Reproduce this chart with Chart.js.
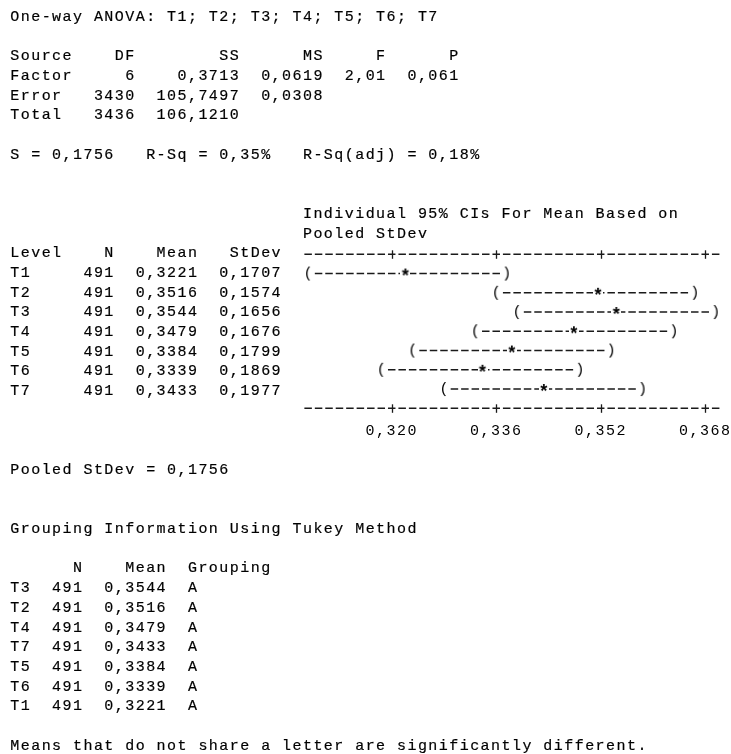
<!DOCTYPE html>
<html>
<head>
<meta charset="utf-8">
<title>One-way ANOVA</title>
<script src="https://cdn.jsdelivr.net/npm/chart.js@4/dist/chart.umd.min.js"></script>
<style>
  html, body { margin: 0; padding: 0; background: #fff; }
  #wrap { position: relative; width: 731px; height: 754px; overflow: hidden; }
  #plot { position: absolute; left: 0; top: 0; }
  #out {
    position: absolute; left: 10.3px; top: 7.8px; margin: 0;
    font: 15px/19.7px "Liberation Mono", monospace;
    letter-spacing: 1.45px; color: #000; white-space: pre;
    -webkit-text-stroke: 0.2px #000;
  }
</style>
</head>
<body>
<div id="wrap">
  <canvas id="plot" width="731" height="754"></canvas>
  <pre id="out"></pre>
</div>
<script>
// ANOVA table
const sources = ['Factor', 'Error', 'Total'];
const dfs = [6, 3430, 3436];
const ss = [0.3713, 105.7497, 106.1210];
const ms = [0.0619, 0.0308];
const fValue = 2.01;
const pValue = 0.061;

// levels
const levels = ['T1', 'T2', 'T3', 'T4', 'T5', 'T6', 'T7'];
const counts = [491, 491, 491, 491, 491, 491, 491];
const means = [0.3221, 0.3516, 0.3544, 0.3479, 0.3384, 0.3339, 0.3433];
const stdevs = [0.1707, 0.1574, 0.1656, 0.1676, 0.1799, 0.1869, 0.1977];
const groups = ['A', 'A', 'A', 'A', 'A', 'A', 'A'];

// 95% CI ends
const ciLower = [0.3072, 0.3360, 0.3392, 0.3328, 0.3232, 0.3184, 0.3280];
const ciUpper = [0.3376, 0.3664, 0.3696, 0.3632, 0.3536, 0.3488, 0.3584];

// axis
const axisTicks = [0.320, 0.336, 0.352, 0.368];
const axisMin = 0.3064;
const axisMax = 0.3704;

const ink = '#000';
const lineInk = '#1a1a1a';
const dash = [7.5, 2.95];
const fmt = (v, d) => v.toFixed(d).replace('.', ',');

// text output
const lines = [];
lines.push('One-way ANOVA: ' + levels.join('; '));
lines.push('');
lines.push('Source' + 'DF'.padStart(6) + 'SS'.padStart(10) + 'MS'.padStart(8) + 'F'.padStart(6) + 'P'.padStart(7));
sources.forEach((s, i) => {
    let row = s.padEnd(6) + String(dfs[i]).padStart(6) + fmt(ss[i], 4).padStart(10);
    if (i < ms.length) row += fmt(ms[i], 4).padStart(8);
    if (i === 0) row += fmt(fValue, 2).padStart(6) + fmt(pValue, 3).padStart(7);
    lines.push(row);
});
lines.push('');
lines.push('S = 0,1756   R-Sq = 0,35%   R-Sq(adj) = 0,18%');
lines.push('', '');
lines.push(' '.repeat(28) + 'Individual 95% CIs For Mean Based on');
lines.push(' '.repeat(28) + 'Pooled StDev');
lines.push('Level' + 'N'.padStart(5) + 'Mean'.padStart(8) + 'StDev'.padStart(8));
levels.forEach((l, i) => {
    lines.push(l.padEnd(5) + String(counts[i]).padStart(5) + fmt(means[i], 4).padStart(8) + fmt(stdevs[i], 4).padStart(8));
});
lines.push('', '', '');
lines.push('Pooled StDev = 0,1756');
lines.push('', '');
lines.push('Grouping Information Using Tukey Method');
lines.push('');
lines.push('N'.padStart(7) + 'Mean'.padStart(8) + '  Grouping');
levels.map((l, i) => i)
    .sort((a, b) => means[b] - means[a])
    .forEach(i => {
        lines.push(levels[i] + String(counts[i]).padStart(5) + fmt(means[i], 4).padStart(8) + '  ' + groups[i]);
    });
lines.push('');
lines.push('Means that do not share a letter are significantly different.');
document.getElementById('out').textContent = lines.join('\n');

// glyphs used as point styles: ( ) *
function glyph(ch, w, h, lift, font) {
    const c = document.createElement('canvas');
    c.width = w;
    c.height = h;
    const g = c.getContext('2d');
    g.fillStyle = '#fff';
    g.fillRect(0, 0, w, h);
    g.font = font;
    g.textAlign = 'center';
    g.textBaseline = 'alphabetic';
    const m = g.measureText(ch);
    const base = h / 2 - lift + (m.actualBoundingBoxAscent - m.actualBoundingBoxDescent) / 2;
    g.fillStyle = ink;
    g.fillText(ch, w / 2, base);
    return c;
}
const openParen = glyph('(', 10, 16, 0, '15px "Liberation Mono"');
const closeParen = glyph(')', 10, 16, 0, '15px "Liberation Mono"');
const star = glyph('*', 10, 16, 1.5, 'bold 18px "Liberation Mono"');

const datasets = [{
    type: 'scatter',
    label: 'Mean',
    data: levels.map((l, i) => ({ x: means[i], y: l })),
    pointStyle: star,
    pointRadius: 4,
    clip: false,
    order: 0
}];
levels.forEach((l, i) => {
    datasets.push({
        type: 'line',
        label: l,
        data: [{ x: ciLower[i], y: l }, { x: ciUpper[i], y: l }],
        borderColor: lineInk,
        borderWidth: 1.5,
        borderDash: dash,
        borderDashOffset: dash[0] / 2,
        pointStyle: [openParen, closeParen],
        pointRadius: 5,
        clip: false,
        order: 1
    });
});

// dashed axis rows with "+" at the ticks, like the text plot
const textAxis = {
    id: 'textAxis',
    beforeDraw(chart) {
        chart.ctx.letterSpacing = '1.45px';
    },
    afterDraw(chart) {
        const { ctx, chartArea, scales } = chart;
        const x = scales.x;
        ctx.save();
        ctx.strokeStyle = lineInk;
        ctx.lineWidth = 1.5;
        [chartArea.top, chartArea.bottom].forEach(y => {
            ctx.setLineDash(dash);
            ctx.lineDashOffset = -(x.getPixelForValue(axisMin + 0.0016) - x.getPixelForValue(axisMin) - dash[0]) / 2;
            ctx.beginPath();
            ctx.moveTo(chartArea.left, y);
            ctx.lineTo(chartArea.right, y);
            ctx.stroke();
            ctx.setLineDash([]);
            x.ticks.forEach(t => {
                const px = Math.round(x.getPixelForValue(t.value)) + 0.5;
                ctx.beginPath();
                ctx.lineWidth = 1.3;
                ctx.moveTo(px, y - 4);
                ctx.lineTo(px, y + 4.5);
                ctx.stroke();
                ctx.lineWidth = 1.5;
            });
        });
        ctx.restore();
    }
};

const noSidePadding = s => { s.paddingLeft = 0; s.paddingRight = 0; };

new Chart(document.getElementById('plot'), {
    data: { datasets: datasets },
    options: {
        responsive: false,
        animation: false,
        devicePixelRatio: 1,
        layout: { padding: { left: 302.9, right: 10.1, top: 254.3, bottom: 305.7 } },
        plugins: { legend: { display: false }, tooltip: { enabled: false } },
        scales: {
            x: {
                type: 'linear',
                position: 'bottom',
                min: axisMin,
                max: axisMax,
                afterBuildTicks: s => { s.ticks = axisTicks.map(v => ({ value: v })); },
                afterFit: s => { s.height = 40; noSidePadding(s); },
                grid: { display: false, drawTicks: false },
                border: { display: false },
                ticks: {
                    color: ink,
                    padding: 14,
                    maxRotation: 0,
                    font: { family: '"Liberation Mono", monospace', size: 15 },
                    callback: v => fmt(v, 3)
                }
            },
            xTop: {
                type: 'linear',
                position: 'top',
                min: axisMin,
                max: axisMax,
                afterFit: s => { s.height = 0; noSidePadding(s); },
                grid: { display: false, drawTicks: false },
                border: { display: false },
                ticks: { display: false }
            },
            y: {
                type: 'category',
                labels: [''].concat(levels, ['']),
                offset: false,
                display: false
            }
        }
    },
    plugins: [textAxis]
});
</script>
</body>
</html>
